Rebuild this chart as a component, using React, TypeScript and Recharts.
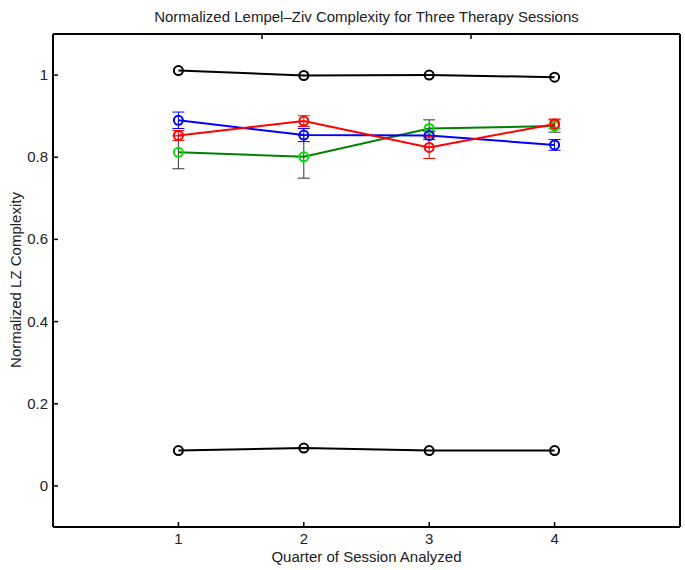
import { ComposedChart, Line, XAxis, YAxis, ErrorBar } from 'recharts';

const quarters = [1, 2, 3, 4];
const blackTop = [1.011, 0.999, 1.0, 0.995];
const blackBottom = [0.086, 0.092, 0.086, 0.086];
const blue = [0.89, 0.854, 0.853, 0.83];
const blueErr = [0.02, 0.016, 0.01, 0.013];
const red = [0.853, 0.888, 0.824, 0.881];
const redErr = [0.012, 0.013, 0.027, 0.012];
const green = [0.812, 0.801, 0.87, 0.876];
const greenErr = [0.04, 0.052, 0.021, 0.015];

const xTicks = [1, 2, 3, 4];
const yTicks = [0, 0.2, 0.4, 0.6, 0.8, 1];

const data = quarters.map((q, i) => ({
  q,
  top: blackTop[i],
  bottom: blackBottom[i],
  blue: blue[i],
  blueErr: blueErr[i],
  red: red[i],
  redErr: redErr[i],
  green: green[i],
  greenErr: greenErr[i],
}));

const FONT = '"Liberation Sans", Arial, sans-serif';
const FS = 15;

const BottomTick = (props: any) => {
  const { x, y, payload } = props;
  return (
    <g>
      <line x1={x} y1={y} x2={x} y2={y - 5} stroke="#000" strokeWidth={1.5} />
      <text x={x} y={y + 17} textAnchor="middle" fontSize={FS} fontFamily={FONT} fill="#222">
        {payload.value}
      </text>
    </g>
  );
};

const TopTick = (props: any) => {
  const { x, y } = props;
  return <line x1={x} y1={y} x2={x} y2={y + 5} stroke="#000" strokeWidth={1.5} />;
};

const LeftTick = (props: any) => {
  const { x, y, payload } = props;
  return (
    <g>
      <line x1={x} y1={y} x2={x + 5} y2={y} stroke="#000" strokeWidth={1.5} />
      <text x={x - 5} y={y + 5} textAnchor="end" fontSize={FS} fontFamily={FONT} fill="#222">
        {payload.value === 0 || payload.value === 1 ? payload.value : payload.value.toFixed(1)}
      </text>
    </g>
  );
};

const RightTick = (props: any) => {
  const { x, y } = props;
  return <line x1={x} y1={y} x2={x - 5} y2={y} stroke="#000" strokeWidth={1.5} />;
};

const dot = (color: string) => ({ r: 4.5, stroke: color, strokeWidth: 2, fill: 'none' });

const textStyle = {
  position: 'absolute' as const,
  fontFamily: FONT,
  fontSize: FS,
  lineHeight: '16px',
  color: '#222',
  whiteSpace: 'nowrap' as const,
};

export default function App() {
  return (
    <div style={{ position: 'absolute', left: 0, top: 0, width: 685, height: 570, background: '#fff' }}>
      <div style={{ ...textStyle, left: 53, width: 627, top: 9, textAlign: 'center' }}>
        Normalized Lempel–Ziv Complexity for Three Therapy Sessions
      </div>
      <div style={{ ...textStyle, left: 53, width: 627, top: 549, textAlign: 'center' }}>
        Quarter of Session Analyzed
      </div>
      <div
        style={{
          ...textStyle,
          left: 16,
          top: 280,
          transform: 'translate(-50%, -50%) rotate(-90deg)',
        }}
      >
        Normalized LZ Complexity
      </div>
      <ComposedChart width={685} height={570} data={data} margin={{ top: 33, right: 4, bottom: 13, left: 13 }}>
        <XAxis
          dataKey="q"
          type="number"
          domain={[0, 5]}
          ticks={xTicks}
          height={30}
          tickSize={0}
          tickMargin={0}
          tickLine={false}
          tick={<BottomTick />}
          axisLine={{ stroke: '#000', strokeWidth: 2 }}
          interval={0}
        />
        <XAxis
          xAxisId="top"
          orientation="top"
          type="number"
          domain={[0, 5]}
          ticks={xTicks}
          height={1}
          tickSize={0}
          tickMargin={0}
          tickLine={false}
          tick={<TopTick />}
          axisLine={{ stroke: '#000', strokeWidth: 2 }}
          interval={0}
        />
        <YAxis
          type="number"
          domain={[-0.1, 1.1]}
          ticks={yTicks}
          width={40}
          tickSize={0}
          tickMargin={0}
          tickLine={false}
          tick={<LeftTick />}
          axisLine={{ stroke: '#000', strokeWidth: 2 }}
          interval={0}
          allowDataOverflow
        />
        <YAxis
          yAxisId="right"
          orientation="right"
          type="number"
          domain={[-0.1, 1.1]}
          ticks={yTicks}
          width={1}
          tickSize={0}
          tickMargin={0}
          tickLine={false}
          tick={<RightTick />}
          axisLine={{ stroke: '#000', strokeWidth: 2 }}
          interval={0}
        />
        <Line type="linear" dataKey="top" stroke="#000" strokeWidth={2} dot={dot('#000')} isAnimationActive={false} />
        <Line type="linear" dataKey="bottom" stroke="#000" strokeWidth={2} dot={dot('#000')} isAnimationActive={false} />
        <Line type="linear" dataKey="green" stroke="#008000" strokeWidth={2} dot={dot('#00e000')} isAnimationActive={false}>
          <ErrorBar dataKey="greenErr" direction="y" width={6} stroke="#333" strokeWidth={1} />
        </Line>
        <Line type="linear" dataKey="blue" stroke="#0000ff" strokeWidth={2} dot={dot('#0000ff')} isAnimationActive={false}>
          <ErrorBar dataKey="blueErr" direction="y" width={6} stroke="#0000ff" strokeWidth={1} />
        </Line>
        <Line type="linear" dataKey="red" stroke="#ff0000" strokeWidth={2} dot={dot('#ff0000')} isAnimationActive={false}>
          <ErrorBar dataKey="redErr" direction="y" width={6} stroke="#ff0000" strokeWidth={1} />
        </Line>
      </ComposedChart>
    </div>
  );
}
